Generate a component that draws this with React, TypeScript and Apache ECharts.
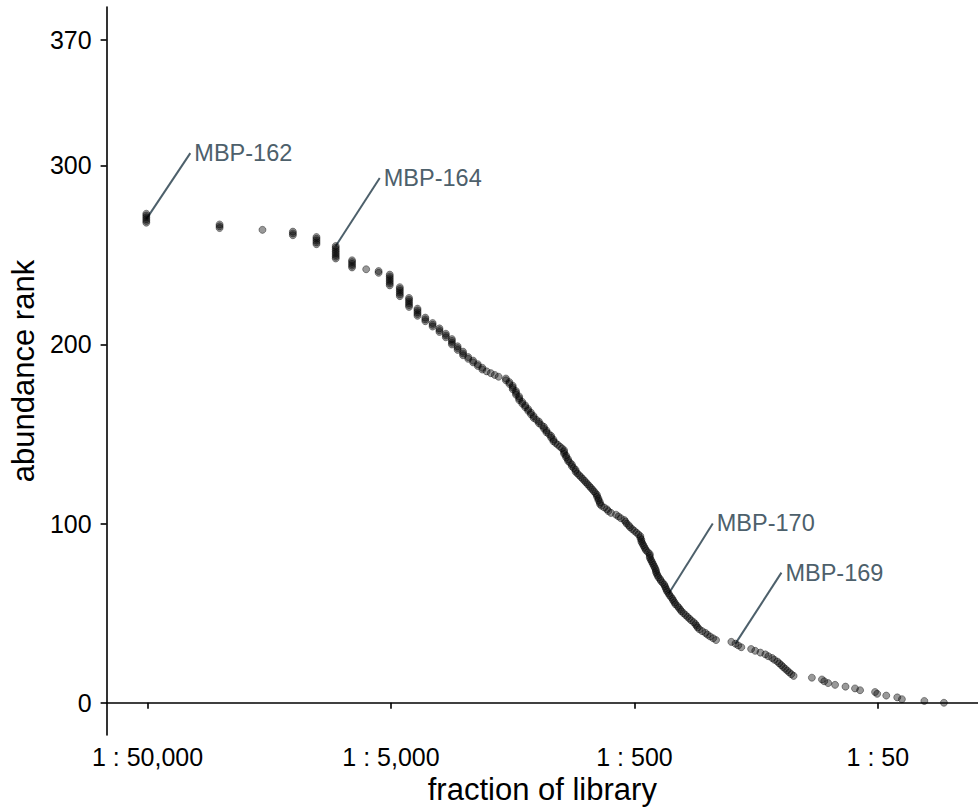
import React, { useEffect, useRef } from "react";
import * as echarts from "echarts";

// total reads in the library (count 1 sits at ~1 : 50,000)
const TOTAL_READS = 50600;

// reads per clone, in abundance-rank order (rank 0 = most abundant)
const abundantCloneReads = [
  1890, 1570, 1270, 1215, 1095, 1005, 985, 855, 815, 745, 675, 632, 609, 596, 542,
  456, 446, 437, 429, 421, 413, 406, 398, 391, 380, 372, 359, 349, 333, 317, 305,
  278, 270, 263, 253, 219, 213, 207, 202, 198, 192,
];

const midCloneReads = [
  187, 184, 182, 180, 177, 173, 170, 167, 164, 161,
  158, 156, 154, 152, 149, 148, 146, 145, 143, 141,
  140, 138, 137, 136, 135, 134, 132, 130, 129, 127,
  126, 125, 124, 124, 123, 122, 121, 120, 119, 118,
  117, 117, 117, 115, 113, 112, 111, 110, 109, 108,
  108, 107, 107, 105, 103, 101, 99, 97, 96, 94,
  93, 92, 89, 87, 85, 81, 79, 78, 76, 74,
  73, 73, 72, 72, 71, 71, 70, 69, 68, 67,
  66, 65, 64, 63, 62, 61, 60, 59, 58, 58,
  57, 56, 56, 55, 54, 54, 53, 53, 52, 52,
  52, 51, 50, 49, 48, 47, 47, 46, 46, 45,
  44, 44, 43, 43, 42, 41, 41, 40, 39, 39,
  38, 38, 37, 37, 36, 36, 35, 35, 34, 34,
  34, 33, 33, 33, 32, 32, 32, 31, 31, 30, 30,
];

const rareCloneReads = [
  28, 27, 26, 25, 24, 24, 23, 23, 22, 22, 21, 21, 20, 20, 20, 19, 19, 19,
  18, 18, 18, 18, 17, 17, 17, 16, 16, 16, 15, 15, 15, 14, 14, 14,
  13, 13, 13, 13, 13,
  12, 12, 12, 12, 12, 12,
  11, 11, 11, 11, 11, 11,
  10, 10, 10, 10, 10, 10, 10,
  9, 9,
  8,
  7, 7, 7, 7, 7,
  6, 6, 6, 6, 6, 6, 6, 6,
  5, 5, 5, 5, 5,
  4, 4, 4,
  3,
  2, 2, 2,
  1, 1, 1, 1, 1, 1,
];

// axis ticks
const xTickFractions = [1 / 50000, 1 / 5000, 1 / 500, 1 / 50];
const xTickLabels = ["1 : 50,000", "1 : 5,000", "1 : 500", "1 : 50"];
const yTickValues = [0, 100, 200, 300, 370];

// annotated clones
const labelledClones = ["MBP-162", "MBP-164", "MBP-170", "MBP-169"];
const labelledRanks = [270, 255, 61, 33];

// label offsets in pixels from the point (style only)
const LABEL_OFFSETS = [
  [48, -66],
  [48, -68],
  [48, -70],
  [50, -71],
];

const FONT = "'Liberation Sans', Arial, Helvetica, sans-serif";
const LABEL_COLOR = "#4d606b";

export default function App() {
  const ref = useRef<HTMLDivElement>(null);

  useEffect(() => {
    if (!ref.current) return;
    const chart = echarts.init(ref.current, undefined, { renderer: "svg" });

    const readsByRank = [...abundantCloneReads, ...midCloneReads, ...rareCloneReads];
    const points = readsByRank.map((reads, rank) => [reads / TOTAL_READS, rank]);
    const labelPoints = labelledRanks.map((rank, i) => [
      readsByRank[rank] / TOTAL_READS,
      rank,
      i,
    ]);

    // axis range: 1:50,000 tick sits 41 px right of the y axis, 243.7 px per decade
    const xMin = xTickFractions[0] * Math.pow(10, -41 / 243.7);
    const xMax = xTickFractions[0] * Math.pow(10, 831.3 / 243.7);

    chart.setOption({
      animation: false,
      backgroundColor: "#ffffff",
      grid: { left: 106, right: 0, top: 7, bottom: 76 },
      xAxis: {
        type: "log",
        logBase: 10,
        min: xMin,
        max: xMax,
        name: "fraction of library",
        nameLocation: "middle",
        nameGap: 36,
        nameTextStyle: { fontFamily: FONT, fontSize: 31, color: "#000" },
        axisLine: { show: true, lineStyle: { color: "#000", width: 1.6 } },
        axisTick: {
          show: true,
          length: 6,
          lineStyle: { color: "#000", width: 1.6 },
          customValues: xTickFractions,
        },
        axisLabel: {
          fontFamily: FONT,
          fontSize: 25,
          color: "#000",
          margin: 9,
          customValues: xTickFractions,
          formatter: (v: number) => {
            const i = xTickFractions.findIndex(
              (t) => Math.abs(Math.log10(t) - Math.log10(v)) < 1e-6
            );
            return i >= 0 ? xTickLabels[i] : "";
          },
        },
        splitLine: { show: false },
        minorTick: { show: false },
      },
      yAxis: {
        type: "value",
        min: -18,
        max: 388.4,
        name: "abundance rank",
        nameLocation: "middle",
        nameGap: 66,
        nameTextStyle: { fontFamily: FONT, fontSize: 31, color: "#000" },
        axisLine: { show: true, lineStyle: { color: "#000", width: 1.6 } },
        axisTick: {
          show: true,
          length: 6,
          lineStyle: { color: "#000", width: 1.6 },
          customValues: yTickValues,
        },
        axisLabel: {
          fontFamily: FONT,
          fontSize: 25,
          color: "#000",
          margin: 15,
          customValues: yTickValues,
        },
        splitLine: { show: false },
      },
      series: [
        {
          type: "scatter",
          data: points,
          symbol: "circle",
          symbolSize: 7,
          itemStyle: {
            color: "rgba(0,0,0,0.5)",
            borderColor: "rgba(0,0,0,0.5)",
            borderWidth: 1,
          },
          emphasis: { disabled: true },
          silent: true,
        },
        {
          type: "custom",
          data: labelPoints,
          silent: true,
          renderItem: (params: any, api: any) => {
            const p = api.coord([api.value(0), api.value(1)]);
            const idx = params.dataIndex;
            const [dx, dy] = LABEL_OFFSETS[idx];
            return {
              type: "group",
              children: [
                {
                  type: "line",
                  shape: { x1: p[0], y1: p[1], x2: p[0] + dx - 4, y2: p[1] + dy },
                  style: { stroke: LABEL_COLOR, lineWidth: 2 },
                },
                {
                  type: "text",
                  x: p[0] + dx,
                  y: p[1] + dy,
                  style: {
                    text: labelledClones[idx],
                    fill: LABEL_COLOR,
                    fontFamily: FONT,
                    fontSize: 23.5,
                    align: "left",
                    verticalAlign: "middle",
                  },
                },
              ],
            };
          },
        },
      ],
    });

    return () => chart.dispose();
  }, []);

  return <div ref={ref} style={{ width: 978, height: 811, position: "absolute", left: 0, top: 0 }} />;
}
